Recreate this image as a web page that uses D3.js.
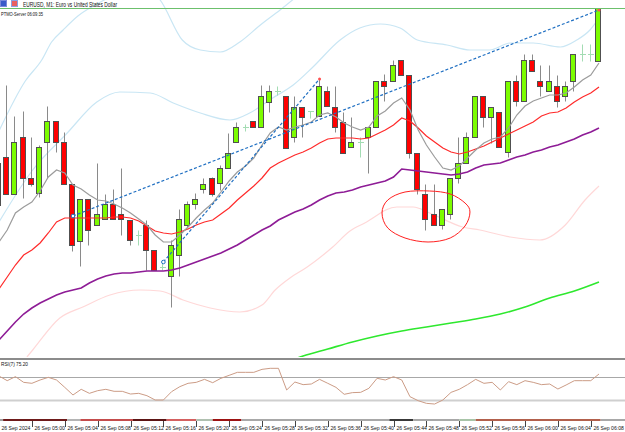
<!DOCTYPE html>
<html>
<head>
<meta charset="utf-8">
<script src="https://cdn.jsdelivr.net/npm/d3@7"></script>
<style>
  body { margin: 0; background: #fff; }
  svg { display: block; font-family: "Liberation Sans", Arial, sans-serif; }
</style>
</head>
<body>
<svg id="chart" width="625" height="432"></svg>
<script>
// EURUSD M1 bars, 04:56 .. 06:09
const opens = [1.11603,1.11651,1.11614,1.11671,1.11630,1.11615,1.11666,1.11687,1.11666,1.11624,
  1.11567,1.11609,1.11583,1.11589,1.11604,1.11594,1.11588,1.11573,1.11583,1.11558,
  1.11541,1.11532,1.11553,1.11583,1.11604,1.11619,1.11630,1.11625,1.11640,1.11666,
  1.11681,1.11687,1.11681,1.11706,1.11717,1.11712,1.11671,1.11701,1.11697,1.11692,
  1.11717,1.11701,1.11686,1.11661,1.11666,1.11671,1.11681,1.11727,1.11727,1.11748,
  1.11733,1.11655,1.11614,1.11594,1.11583,1.11594,1.11630,1.11645,1.11671,1.11712,
  1.11691,1.11696,1.11656,1.11727,1.11707,1.11748,1.11727,1.11717,1.11722,1.11712,
  1.11727,1.11754,1.11754,1.11747]
const highs = [1.11650,1.11723,1.11692,1.11697,1.11671,1.11663,1.11702,1.11687,1.11676,1.11624,
  1.11609,1.11609,1.11645,1.11614,1.11619,1.11640,1.11588,1.11578,1.11588,1.11558,
  1.11546,1.11568,1.11599,1.11607,1.11615,1.11630,1.11631,1.11643,1.11675,1.11686,
  1.11684,1.11687,1.11723,1.11723,1.11722,1.11712,1.11712,1.11701,1.11697,1.11729,
  1.11722,1.11722,1.11696,1.11691,1.11671,1.11681,1.11727,1.11734,1.11748,1.11748,
  1.11733,1.11655,1.11624,1.11624,1.11599,1.11630,1.11671,1.11676,1.11712,1.11712,
  1.11701,1.11696,1.11727,1.11733,1.11754,1.11754,1.11743,1.11743,1.11733,1.11727,
  1.11754,1.11764,1.11764,1.11800]
const lows = [1.11600,1.11614,1.11614,1.11610,1.11622,1.11611,1.11630,1.11656,1.11624,1.11557,
  1.11542,1.11563,1.11583,1.11589,1.11589,1.11573,1.11563,1.11563,1.11538,1.11538,
  1.11538,1.11501,1.11532,1.11580,1.11599,1.11615,1.11612,1.11618,1.11640,1.11666,
  1.11677,1.11681,1.11681,1.11696,1.11713,1.11660,1.11666,1.11671,1.11690,1.11692,
  1.11702,1.11676,1.11655,1.11661,1.11651,1.11635,1.11681,1.11707,1.11727,1.11733,
  1.11650,1.11614,1.11578,1.11583,1.11579,1.11589,1.11625,1.11645,1.11671,1.11681,
  1.11665,1.11661,1.11651,1.11702,1.11707,1.11737,1.11712,1.11717,1.11701,1.11707,
  1.11717,1.11747,1.11747,1.11747]
const closes = [1.11645,1.11614,1.11666,1.11630,1.11624,1.11661,1.11687,1.11666,1.11624,1.11563,
  1.11609,1.11578,1.11594,1.11604,1.11589,1.11589,1.11568,1.11573,1.11558,1.11538,
  1.11541,1.11563,1.11589,1.11604,1.11609,1.11624,1.11614,1.11640,1.11655,1.11681,
  1.11681,1.11681,1.11712,1.11717,1.11717,1.11660,1.11701,1.11691,1.11697,1.11722,
  1.11702,1.11681,1.11655,1.11666,1.11666,1.11681,1.11727,1.11722,1.11743,1.11733,
  1.11655,1.11619,1.11589,1.11583,1.11599,1.11630,1.11645,1.11671,1.11712,1.11691,
  1.11701,1.11661,1.11727,1.11707,1.11748,1.11737,1.11722,1.11727,1.11707,1.11722,
  1.11754,1.11754,1.11754,1.11800]

// moving averages, one value per bar
const maFast = [1.11566,1.11578,1.11595,1.11601,1.11606,1.11617,1.11631,1.11638,1.11635,1.11623,
  1.11619,1.11613,1.11608,1.11607,1.11604,1.11600,1.11595,1.11589,1.11583,1.11573,
  1.11566,1.11566,1.11573,1.11581,1.11590,1.11598,1.11605,1.11616,1.11627,1.11636,
  1.11642,1.11650,1.11663,1.11675,1.11681,1.11678,1.11681,1.11683,1.11686,1.11693,
  1.11695,1.11691,1.11685,1.11681,1.11678,1.11681,1.11692,1.11697,1.11705,1.11710,
  1.11698,1.11678,1.11663,1.11651,1.11640,1.11638,1.11642,1.11650,1.11658,1.11665,
  1.11669,1.11671,1.11680,1.11693,1.11702,1.11707,1.11710,1.11713,1.11713,1.11715,
  1.11721,1.11728,1.11733,1.11745]
const maMid = [1.11519,1.11531,1.11543,1.11553,1.11558,1.11565,1.11575,1.11586,1.11590,1.11590,
  1.11590,1.11590,1.11590,1.11590,1.11591,1.11591,1.11590,1.11587,1.11582,1.11577,
  1.11575,1.11574,1.11576,1.11579,1.11583,1.11586,1.11588,1.11594,1.11600,1.11608,
  1.11615,1.11622,1.11630,1.11640,1.11645,1.11649,1.11653,1.11656,1.11660,1.11665,
  1.11669,1.11670,1.11670,1.11670,1.11669,1.11670,1.11674,1.11678,1.11683,1.11690,
  1.11687,1.11680,1.11672,1.11666,1.11660,1.11656,1.11654,1.11656,1.11659,1.11662,
  1.11666,1.11670,1.11674,1.11678,1.11682,1.11686,1.11692,1.11695,1.11696,1.11700,
  1.11706,1.11711,1.11715,1.11721]
const maSlow = [1.11468,1.11477,1.11486,1.11494,1.11500,1.11505,1.11509,1.11513,1.11516,1.11518,
  1.11520,1.11525,1.11529,1.11532,1.11534,1.11535,1.11535,1.11536,1.11537,1.11537,
  1.11537,1.11538,1.11540,1.11543,1.11546,1.11549,1.11552,1.11555,1.11559,1.11563,
  1.11568,1.11573,1.11578,1.11582,1.11588,1.11592,1.11596,1.11599,1.11603,1.11608,
  1.11612,1.11615,1.11616,1.11618,1.11621,1.11623,1.11625,1.11627,1.11631,1.11639,
  1.11638,1.11637,1.11636,1.11635,1.11634,1.11633,1.11634,1.11636,1.11640,1.11643,
  1.11644,1.11645,1.11648,1.11651,1.11653,1.11656,1.11658,1.11661,1.11663,1.11666,
  1.11669,1.11673,1.11676,1.11680]
// long MA, [bar, price]
const maLong = [[35,1.11446],[37,1.11452],[40,1.11459],[43,1.11466],[46,1.11472],[49,1.11477],
  [52,1.11481],[55,1.11485],[58,1.11489],[61,1.11494],[64,1.11501],[67,1.11510],[70,1.11517],[73,1.11526]]

// envelope bands, [bar, price]
const bandUpper = [[0,1.11586],[4.1,1.11638],[8.3,1.11675],[11.9,1.11706],[14.7,1.11716],[18.4,1.11715],
  [21.2,1.11705],[24.5,1.11695],[28.1,1.11688],[30.5,1.11695],[33.3,1.11710],[35.8,1.11723],
  [38.2,1.11741],[41.5,1.11768],[43.9,1.11780],[46.4,1.11784],[48.8,1.11780],[50.9,1.11768],
  [54.5,1.11763],[57.3,1.11758],[59.7,1.11758],[62.2,1.11765],[65,1.11765],[68.3,1.11761],
  [70.3,1.11768],[71.9,1.11778],[73,1.11790]]
const bandOuterA = [[0,1.11677],[3.2,1.11727],[5.2,1.11748],[6.4,1.11766],[7.8,1.11778],
  [9.6,1.11792],[11.7,1.11803],[13.5,1.11811]]
const bandOuterB = [[18.4,1.11818],[19.6,1.11808],[22.3,1.11768],[24.5,1.11758],[26.9,1.11756],
  [29.3,1.11766],[31.8,1.11783],[34.2,1.11798],[36,1.11810]]
const bandLower = [[3.4,1.11451],[4.1,1.11458],[7.4,1.11490],[10.2,1.11501],[13.5,1.11513],
  [17.2,1.11518],[19.6,1.11517],[22.4,1.11508],[25.7,1.11500],[29.3,1.11496],[32,1.11503],
  [33.6,1.11518],[35.4,1.11530],[37.5,1.11541],[40.6,1.11561],[42.7,1.11577],[44.5,1.11585],
  [48.4,1.11601],[50.4,1.11601],[52.4,1.11595],[56.4,1.11581],[58.5,1.11578],[62.2,1.11571],
  [65.8,1.11568],[68.9,1.11583],[71.3,1.11608],[73,1.11622]]

// trend lines drawn on the chart
const trendLines = [
  { from: [9, 1.11592], to: [73, 1.11798] },
  { from: [20, 1.11546], to: [39, 1.11729] }
]
// hand drawn circle
const circleMark = [[56.7,1.11605],[54.9,1.11614],[52.4,1.11617],[49.4,1.11616],[47.3,1.11608],
  [46.6,1.11595],[47.3,1.11580],[49.4,1.11570],[52.2,1.11566],[54.9,1.11570],[56.7,1.11582],[57.3,1.11596]]

// RSI(7)
const rsi = [71.7,63.6,70.6,60.7,59.0,64.8,69.4,64.8,52.0,38.7,
  48.6,41.6,46.2,48.6,45.1,45.1,40.4,41.6,37.5,30.0,
  30.0,44.5,53.2,59.0,60.7,65.9,60.1,67.7,72.9,78.1,
  78.1,78.1,83.3,85.1,85.1,47.4,61.3,56.7,57.8,65.9,
  59.0,52.0,39.9,42.8,43.3,50.3,67.7,64.8,70.6,64.8,
  35.8,28.8,24.2,23.0,30.0,43.3,48.6,56.7,65.9,59.0,
  60.7,47.4,61.9,56.7,63.6,60.7,56.7,57.8,49.1,56.1,
  63.6,63.6,63.6,75.2]
const rsiLevels = [70, 30]

// thin strip under RSI, [fromBar, toBar, colour]
const stripSegs = [[-0.5,0.5,"#a0a0a0"],[0.5,8.3,"#6e1a1a"],[8.3,9.9,"#b4b4b4"],[9.9,16.3,"#c44c4c"],
  [16.3,20.4,"#5c1414"],[20.4,24,"#d46060"],[24,26,"#b0c0b0"],[26,29.5,"#9c1212"],
  [29.5,47.5,"#a8a8a8"],[47.5,50.4,"#383838"],[50.4,56,"#a8a8a8"],[56,58,"#a8c4a8"],
  [58,73.2,"#b2604c"],[73.2,76.5,"#a8a8a8"]]

const tickLabels = ["26 Sep 2024","26 Sep 05:00","26 Sep 05:04","26 Sep 05:08","26 Sep 05:12",
  "26 Sep 05:16","26 Sep 05:20","26 Sep 05:24","26 Sep 05:28","26 Sep 05:32","26 Sep 05:36",
  "26 Sep 05:40","26 Sep 05:44","26 Sep 05:48","26 Sep 05:52","26 Sep 05:56","26 Sep 06:00",
  "26 Sep 06:04","26 Sep 06:08"]
const tickStep = 4
const lastPrice = 1.11800

const svg = d3.select('#chart')

const x = d3.scaleLinear().domain([0, 73]).range([-1, 599])
const y = d3.scaleLinear().domain([1.11450, 1.11808]).range([358, 0])
const yr = d3.scaleLinear().domain([0, 100]).range([417.25, 359.75])
const px = i => Math.round(x(i))
const py = v => Math.round(y(v)) + 0.5

const defs = svg.append('defs')
defs.append('clipPath').attr('id', 'mainClip').append('rect')
  .attr('x', 0).attr('y', 0).attr('width', 625).attr('height', 357)
defs.append('clipPath').attr('id', 'rsiClip').append('rect')
  .attr('x', 0).attr('y', 360).attr('width', 625).attr('height', 58)

const main = svg.append('g').attr('clip-path', 'url(#mainClip)')

const pairLine = d3.line().x(d => x(d[0])).y(d => y(d[1])).curve(d3.curveMonotoneX)
const seriesLine = d3.line().x((d, i) => x(i)).y(d => y(d))

// bands
;[[bandUpper, '#c9e6f4'], [bandOuterA, '#c9e6f4'], [bandOuterB, '#c9e6f4'], [bandLower, '#ffd8d8']]
  .forEach(([data, col]) => {
    main.append('path').attr('d', pairLine(data))
      .attr('fill', 'none').attr('stroke', col).attr('stroke-width', 1.2)
  })

// long MA
main.append('path').attr('d', pairLine(maLong))
  .attr('fill', 'none').attr('stroke', '#2ee82e').attr('stroke-width', 1.6)

// candles
const bars = d3.range(opens.length)
const candle = main.append('g')
bars.forEach(i => {
  const o = opens[i], c = closes[i]
  const xc = px(i)
  const doji = o === c
  candle.append('line')
    .attr('x1', xc - 0.5).attr('x2', xc - 0.5)
    .attr('y1', py(highs[i])).attr('y2', py(lows[i]))
    .attr('stroke', doji ? '#a3dcb3' : '#8a8a8a').attr('stroke-width', 1)
  if (doji) {
    candle.append('line')
      .attr('x1', xc - 3).attr('x2', xc + 3)
      .attr('y1', py(o)).attr('y2', py(o))
      .attr('stroke', '#a3dcb3').attr('stroke-width', 1)
    return
  }
  const top = py(Math.max(o, c)), bot = py(Math.min(o, c))
  candle.append('rect')
    .attr('x', xc - 3.5).attr('y', top)
    .attr('width', 5).attr('height', Math.max(1, bot - top))
    .attr('fill', c > o ? '#7cfc00' : '#ff0000')
    .attr('stroke', '#505050').attr('stroke-width', 1)
})

// moving averages
main.append('path').attr('d', seriesLine(maSlow))
  .attr('fill', 'none').attr('stroke', '#8e1c96').attr('stroke-width', 1.6)
main.append('path').attr('d', seriesLine(maMid))
  .attr('fill', 'none').attr('stroke', '#ff2a2a').attr('stroke-width', 1.2)
main.append('path').attr('d', seriesLine(maFast))
  .attr('fill', 'none').attr('stroke', '#9c9c9c').attr('stroke-width', 1.2)

// drawn circle
main.append('path')
  .attr('d', d3.line().x(d => x(d[0])).y(d => y(d[1])).curve(d3.curveCardinalClosed)(circleMark))
  .attr('fill', 'none').attr('stroke', '#ff2020').attr('stroke-width', 1)

// trend lines
trendLines.forEach(t => {
  main.append('line')
    .attr('x1', x(t.from[0])).attr('y1', y(t.from[1]))
    .attr('x2', x(t.to[0])).attr('y2', y(t.to[1]))
    .attr('stroke', '#1f6fc2').attr('stroke-width', 1.2).attr('stroke-dasharray', '3,2')
  main.append('circle').attr('cx', x(t.from[0])).attr('cy', y(t.from[1])).attr('r', 1.8)
    .attr('fill', '#fff').attr('stroke', '#1f6fc2').attr('stroke-width', 1)
  main.append('circle').attr('cx', x(t.to[0])).attr('cy', y(t.to[1])).attr('r', 1.5)
    .attr('fill', '#ff5050')
})

// last price line
main.append('line').attr('x1', 0).attr('x2', 625)
  .attr('y1', py(lastPrice)).attr('y2', py(lastPrice))
  .attr('stroke', '#6cc06c').attr('stroke-width', 1)

// header
svg.append('rect').attr('x', 0.5).attr('y', 0.5).attr('width', 6).attr('height', 6)
  .attr('fill', '#3a5cc8').attr('stroke', '#7a8ad8')
svg.append('rect').attr('x', 11.5).attr('y', 0.5).attr('width', 6).attr('height', 6)
  .attr('fill', '#e86060').attr('stroke', '#8aa0e0')
svg.append('text').attr('x', 23).attr('y', 6.8)
  .attr('font-size', 6.6).attr('fill', '#111')
  .attr('textLength', 94).attr('lengthAdjust', 'spacingAndGlyphs')
  .text('EURUSD, M1:  Euro vs United States Dollar')
svg.append('text').attr('x', 1).attr('y', 15.6)
  .attr('font-size', 6.2).attr('fill', '#111')
  .attr('textLength', 42).attr('lengthAdjust', 'spacingAndGlyphs')
  .text('PTMO-Server 06:09:35')

// panel separator
svg.append('rect').attr('x', 0).attr('y', 358).attr('width', 625).attr('height', 2).attr('fill', '#8c8c8c')

// RSI panel
const rsiG = svg.append('g').attr('clip-path', 'url(#rsiClip)')
rsiLevels.forEach((lv, k) => {
  rsiG.append('line').attr('x1', 0).attr('x2', 625)
    .attr('y1', Math.round(yr(lv)) + 0.5).attr('y2', Math.round(yr(lv)) + 0.5)
    .attr('stroke', k === 0 ? '#a8a8a8' : '#cfcfcf').attr('stroke-width', k === 0 ? 1 : 2)
})
rsiG.append('path')
  .attr('d', d3.line().x((d, i) => x(i)).y(d => yr(d))(rsi))
  .attr('fill', 'none').attr('stroke', '#cc9c86').attr('stroke-width', 1)
svg.append('text').attr('x', 1).attr('y', 365.6)
  .attr('font-size', 6.2).attr('fill', '#111')
  .attr('textLength', 27).attr('lengthAdjust', 'spacingAndGlyphs')
  .text('RSI(7) ' + rsi[rsi.length - 1].toFixed(2))

// strip
svg.append('g').selectAll('rect').data(stripSegs).join('rect')
  .attr('x', d => x(d[0])).attr('width', d => x(d[1]) - x(d[0]))
  .attr('y', 419).attr('height', 2).attr('fill', d => d[2])

// time axis
const axis = svg.append('g')
tickLabels.forEach((lab, k) => {
  const xi = px(k * tickStep)
  axis.append('line').attr('x1', xi + 0.5).attr('x2', xi + 0.5)
    .attr('y1', 421).attr('y2', 427).attr('stroke', '#444').attr('stroke-width', 1)
  axis.append('text').attr('x', xi + 2.5).attr('y', 429.5)
    .attr('font-size', 5.1).attr('fill', '#111')
    .text(lab)
})
</script>
</body>
</html>
